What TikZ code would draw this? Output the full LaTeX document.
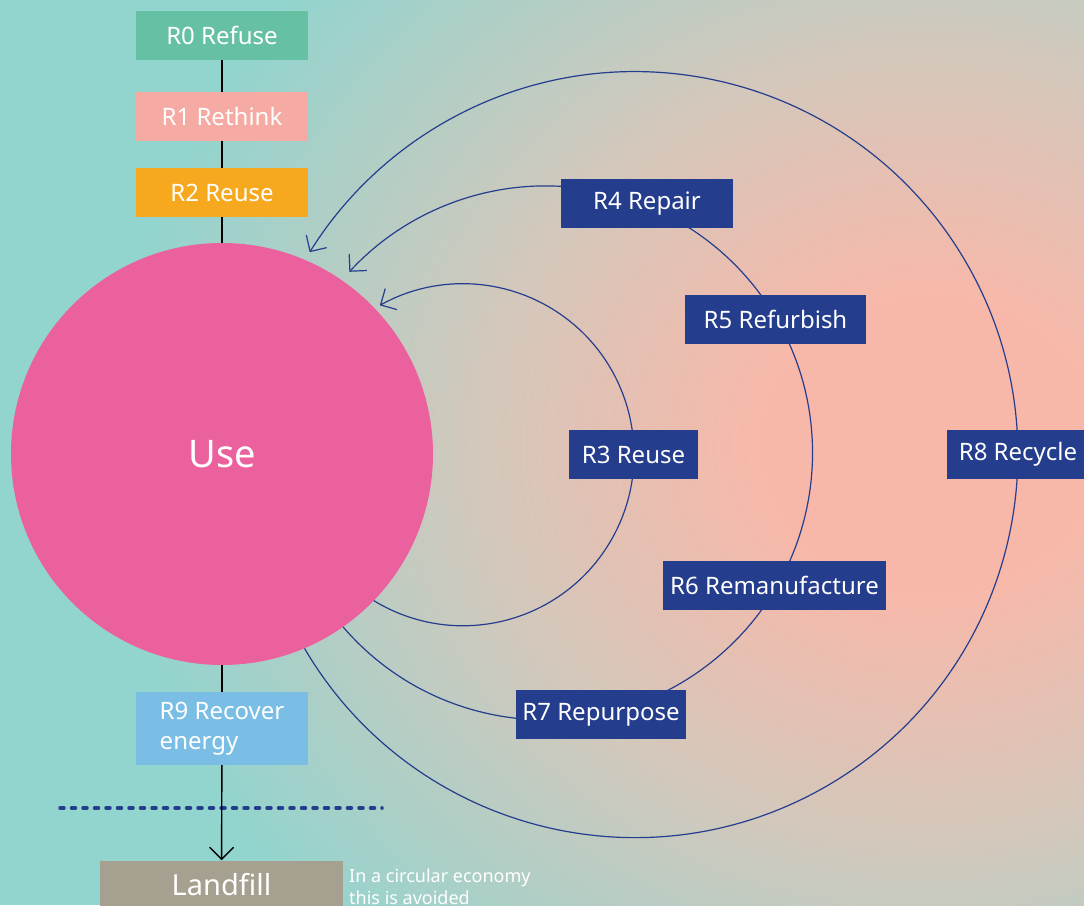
\documentclass[tikz,border=0pt]{standalone}
\usepackage{fontspec}
\setmainfont{Noto Sans}
\usetikzlibrary{arrows.meta}

\definecolor{tealbg}{HTML}{92D4CE}
\definecolor{sandbg}{HTML}{D2C8BC}
\definecolor{salmonbg}{HTML}{F8B8A9}
\definecolor{refusecol}{HTML}{66C0A4}
\definecolor{rethinkcol}{HTML}{F5ABA3}
\definecolor{reusecol}{HTML}{F6A81E}
\definecolor{usecol}{HTML}{EB619E}
\definecolor{recovercol}{HTML}{7ABEE6}
\definecolor{loopcol}{HTML}{243D8D}
\definecolor{landfillcol}{HTML}{A5A08F}

\pgfdeclareradialshading{glow}{\pgfpoint{0bp}{0bp}}{color(0bp)=(salmonbg); color(5bp)=(salmonbg); color(14bp)=(sandbg); color(25bp)=(tealbg); color(50bp)=(tealbg)}

\tikzset{
  rbox/.style={rectangle, minimum height=49pt, inner sep=0pt, text=white, font=\fontsize{24}{30}\selectfont},
  loopbox/.style={rbox, fill=loopcol},
  backarc/.style={draw=loopcol, line width=1.2pt, -{Straight Barb[length=12pt,width=24pt]}},
}

\begin{document}
\begin{tikzpicture}[x=1pt,y=1pt]
\useasboundingbox (0,0) rectangle (1084,905);
\begin{scope}
\clip (0,0) rectangle (1084,905);
\fill[tealbg] (0,0) rectangle (1084,905);
\shade[shading=glow] (930,460) ellipse (820 and 720);
\end{scope}
%
\node[rbox, fill=refusecol, minimum width=172pt] (refuse) at (222,869.5) {R0 Refuse};
\node[rbox, fill=rethinkcol, minimum width=172pt] (rethink) at (222,788.5) {R1 Rethink};
\node[rbox, fill=reusecol, minimum width=172pt] (reuse) at (222,712.5) {R2 Reuse};
\node[circle, fill=usecol, minimum size=422pt, inner sep=0pt, text=white, font=\fontsize{38}{38}\selectfont] (use) at (222,451) {Use};
\node[rbox, fill=recovercol, minimum width=172pt, minimum height=73pt, align=left] (recover) at (222,176.5) {R9 Recover\\energy};
\node[rbox, fill=landfillcol, minimum width=243pt, font=\fontsize{29}{29}\selectfont] (landfill) at (221.5,20) {Landfill};
\node[anchor=north west, inner sep=0pt, text=white, align=left, font=\fontsize{18}{22}\selectfont] (note) at (349,36) {In a circular economy\\this is avoided};
%
\coordinate (cutleft) at (60,97);
\coordinate (cutright) at (382,97);
\draw[loopcol, line width=3.5pt, line cap=round, dash pattern=on 4pt off 7.5pt] (cutleft) -- (cutright);
%
\draw[line width=1.4pt] (refuse) -- (rethink) -- (reuse) -- (use) -- (recover);
\draw[line width=1.4pt, -{Straight Barb[length=12pt,width=24pt]}] (recover) -- (landfill);
%
\draw[backarc] (use.-44) arc[start angle=-121.4, end angle=119.1, radius=171pt];
\draw[backarc] (use.-55.6) arc[start angle=-139.3, end angle=137.3, radius=267pt];
\draw[backarc] (use.-67.6) arc[start angle=-149.6, end angle=148.1, radius=383pt];
%
\node[loopbox, minimum width=129pt] (reuseloop) at (633.5,450.5) {R3 Reuse};
\node[loopbox, minimum width=172pt] (repair) at (647,701.5) {R4 Repair};
\node[loopbox, minimum width=181pt] (refurbish) at (775.5,585.5) {R5 Refurbish};
\node[loopbox, minimum width=223pt] (remanufacture) at (774.5,319.5) {R6 Remanufacture};
\node[loopbox, minimum width=170pt] (repurpose) at (601,190.5) {R7 Repurpose};
\node[loopbox, minimum width=142pt] (recycle) at (1018,450.5) {R8 Recycle};
\end{tikzpicture}
\end{document}
